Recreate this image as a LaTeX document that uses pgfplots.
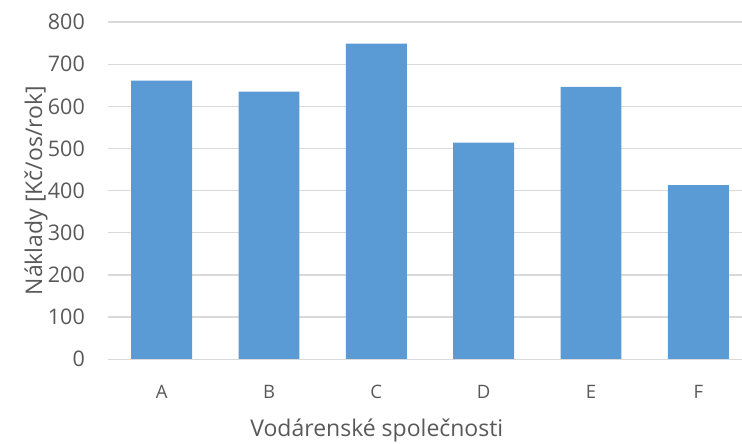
\documentclass[border=0pt]{standalone}
\usepackage{pgfplots}
\pgfplotsset{compat=1.18}
\usepackage{fontspec}
\setmainfont{Open Sans}
\definecolor{barblue}{HTML}{5B9BD5}
\definecolor{gridgray}{HTML}{D9D9D9}
\definecolor{txtgray}{HTML}{595959}
\begin{document}
\begin{tikzpicture}
\useasboundingbox (0,0) rectangle (742bp,444bp);
\begin{axis}[
  at={(108bp,84.7bp)}, anchor=south west,
  width=634bp, height=337.3bp, scale only axis,
  xmin=-0.5, xmax=5.407,
  ymin=0, ymax=800,
  ytick={0,100,...,800},
  xtick={0,1,2,3,4,5},
  xticklabels={A,B,C,D,E,F},
  axis line style={draw=none},
  major tick length=0pt,
  ymajorgrids,
  grid style={gridgray, line width=1.3bp},
  tick label style={txtgray, inner sep=0pt},
  yticklabel style={font=\fontsize{21.5bp}{23bp}\selectfont, anchor=east, xshift=-23bp},
  xticklabel style={font=\fontsize{18.5bp}{20bp}\selectfont, anchor=base, yshift=-39bp},
  /pgf/number format/assume math mode=true,
  xlabel={Vodárenské společnosti},
  ylabel={Náklady [Kč/os/rok]},
  label style={txtgray, inner sep=0pt, font=\fontsize{23bp}{25bp}\selectfont},
  xlabel style={at={(axis description cs:0.424,0)}, anchor=base, yshift=-77bp},
  ylabel style={at={(axis description cs:-0.104,0.5)}, anchor=base},
  clip=false,
]
\addplot[ybar, bar width=0.568, fill=barblue, draw=none] coordinates {
  (0,661) (1,635) (2,749) (3,514) (4,646) (5,413)
};
\draw[gridgray, line width=1.3bp] (axis cs:-0.5,0) -- (axis cs:5.407,0);
\end{axis}
\end{tikzpicture}
\end{document}
